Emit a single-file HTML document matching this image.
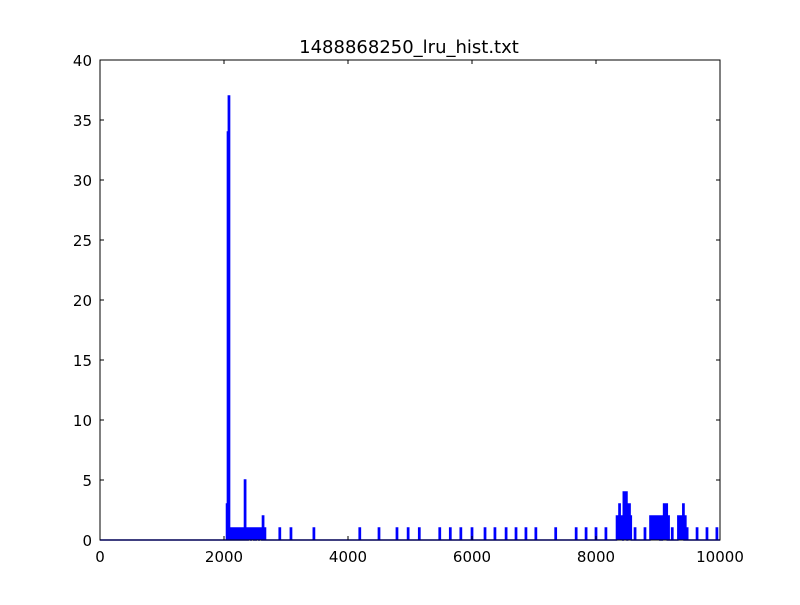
<!DOCTYPE html>
<html><head><meta charset="utf-8"><style>
body{margin:0;background:#fff;}
svg text{font-family:"DejaVu Sans","Liberation Sans",sans-serif;}
</style></head><body>
<svg id="chart" width="800" height="600">
<rect width="800" height="600" fill="#fff"/>
<text x="409" y="53" font-size="18" text-anchor="middle">1488868250_lru_hist.txt</text>
<g id="plot"></g>
<rect x="100" y="60" width="620" height="480" fill="none" stroke="#000" stroke-width="1"/>
<g id="ticks"></g>
</svg>
<script>
const binX=[2050,2065,2080,2095,2120,2145,2180,2210,2240,2270,2300,2340,2370,2400,2420,2450,2470,2500,2530,2550,2580,2600,2630,2660,
2900,3080,3450,4190,4500,4790,4970,5150,5480,5650,5820,6000,6210,6370,6550,6710,6870,7030,7350,7680,7840,8000,8160,
8340,8360,8380,8400,8420,8450,8470,8490,8520,8540,8560,8630,8790,8880,8900,8920,8940,8960,8980,9000,9020,9050,9080,9100,9120,9140,9170,9230,9330,9350,9370,9390,9410,9440,9470,9630,9790,9950];
const binY=[3,34,37,1,1,1,1,1,1,1,1,5,1,1,1,1,1,1,1,1,1,1,2,1,
1,1,1,1,1,1,1,1,1,1,1,1,1,1,1,1,1,1,1,1,1,1,1,
2,2,3,2,2,4,2,4,3,3,2,1,1,2,2,2,2,2,2,2,2,2,2,3,3,3,2,1,2,2,2,2,3,2,1,1,1,1];
const xTicks=[0,2000,4000,6000,8000,10000];
const yTicks=[0,5,10,15,20,25,30,35,40];
const X0=100,X1=720,Y0=540,Y1=60;
const sx=v=>X0+(v-0)/(10000-0)*(X1-X0);
const sy=v=>Y0-(v-0)/(40-0)*(Y0-Y1);
const NS="http://www.w3.org/2000/svg";
const plot=document.getElementById('plot');
let pts=[[0,0]];
const hw=10;
for(let i=0;i<binX.length;i++){
  pts.push([binX[i]-hw,0],[binX[i]-hw,binY[i]],[binX[i]+hw,binY[i]],[binX[i]+hw,0]);
}
pts.push([10000,0]);
const line=document.createElementNS(NS,'polyline');
line.setAttribute('points',pts.map(p=>sx(p[0]).toFixed(2)+','+sy(p[1]).toFixed(2)).join(' '));
line.setAttribute('fill','none');line.setAttribute('stroke','#0000ff');line.setAttribute('stroke-width','1.5');


plot.appendChild(line);
const tg=document.getElementById('ticks');
function mk(tag,attrs){const e=document.createElementNS(NS,tag);for(const k in attrs)e.setAttribute(k,attrs[k]);tg.appendChild(e);return e;}
xTicks.forEach(t=>{
  const x=sx(t);
  const a=mk('line',{x1:x,x2:x,y1:Y0,y2:Y0-4,stroke:'#000'});
  
  
  const b=mk('line',{x1:x,x2:x,y1:Y1,y2:Y1+4,stroke:'#000'});
  
  
  const l=mk('text',{x:x,y:Y0+22,'font-size':15,'text-anchor':'middle'});l.textContent=t;
  
  
});
yTicks.forEach(t=>{
  const y=sy(t);
  const a=mk('line',{x1:X0,x2:X0+4,y1:y,y2:y,stroke:'#000'});
  
  
  const b=mk('line',{x1:X1,x2:X1-4,y1:y,y2:y,stroke:'#000'});
  
  
  const l=mk('text',{x:X0-8,y:y+6,'font-size':15,'text-anchor':'end'});l.textContent=t;
  
  
});
</script>
</body></html>
